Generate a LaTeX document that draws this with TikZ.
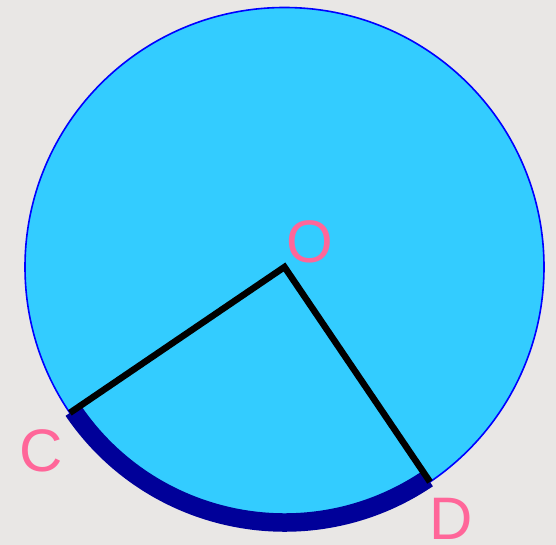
\documentclass[tikz,border=0pt]{standalone}
\usepackage{fontspec}
\setmainfont{Liberation Sans}
\definecolor{bgc}{HTML}{E9E7E5}
\definecolor{fillc}{HTML}{33CCFF}
\definecolor{rimc}{HTML}{0000FF}
\definecolor{arcc}{HTML}{000099}
\definecolor{labc}{HTML}{FF6699}
\tikzset{
  lab/.style={text=labc, font=\fontsize{60}{60}\selectfont, inner sep=0pt},
  radius line/.style={line width=6.5pt, black, line join=miter},
  minor arc/.style={line width=18.5pt, arcc, line cap=butt}
}
\begin{document}
\begin{tikzpicture}[x=1pt,y=-1pt]
\fill[bgc] (0,0) rectangle (556,545);
\useasboundingbox (0,0) rectangle (556,545);
\coordinate (O) at (284.5,267);
\fill[fillc] (O) circle (259.5);
\draw[rimc, line width=1.6pt] (O) circle (259.5);
\path (O) ++(145.8:259.5) coordinate (C) (O) ++(55.9:259.5) coordinate (D);
\path (O) ++(145.8:255.5) coordinate (Cs);
\draw[minor arc] (Cs) arc[start angle=145.8, end angle=55.9, radius=255.5];
\draw[radius line] (C) -- (O) -- (D);
\node[lab] (lO) at (310,242) {O};
\node[lab] (lC) at (41,451) {C};
\node[lab] (lD) at (451,519) {D};
\end{tikzpicture}
\end{document}
